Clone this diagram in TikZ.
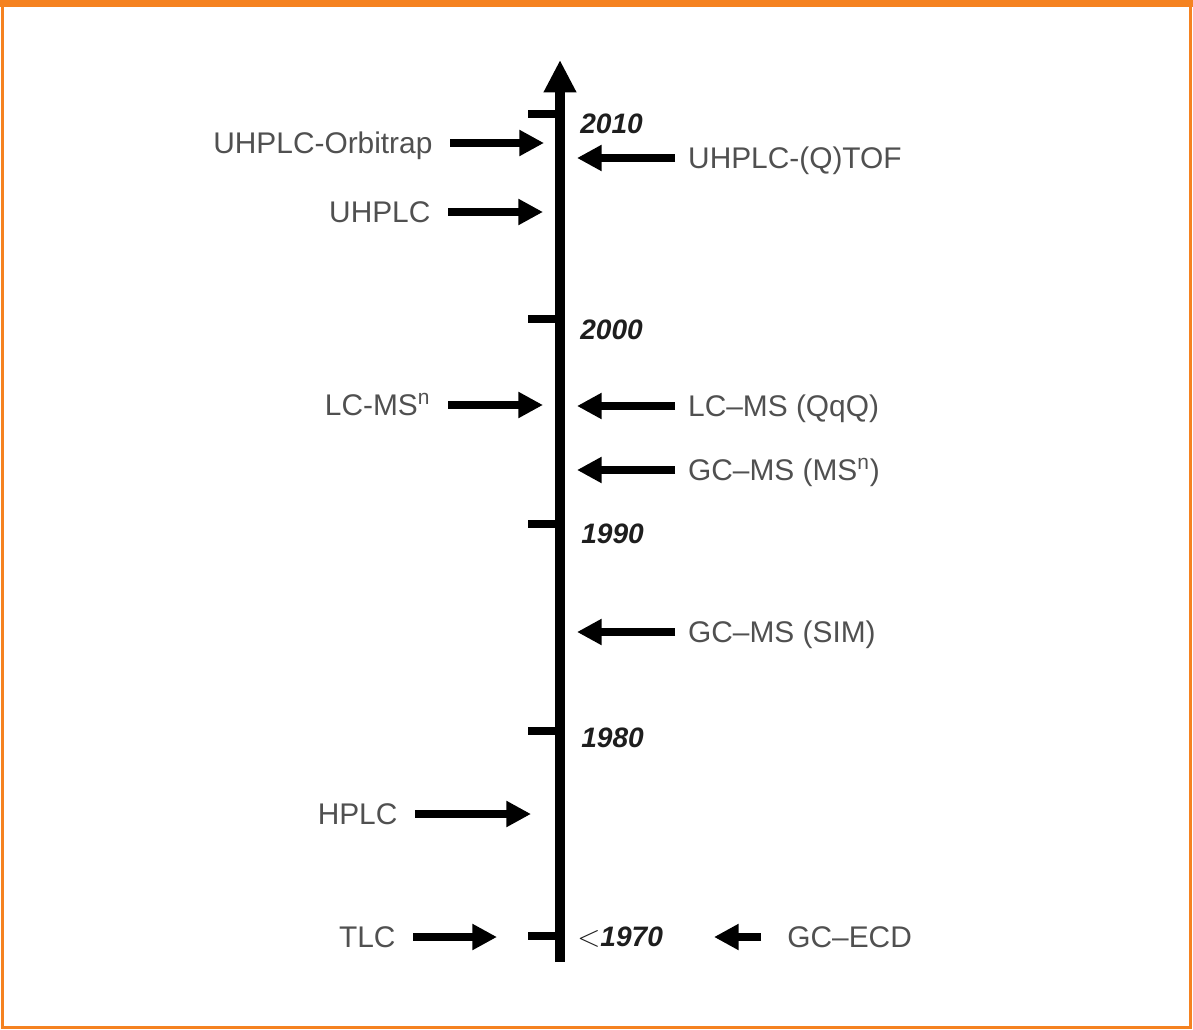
\documentclass[tikz,border=0pt]{standalone}
\usepackage{fontspec}
\setmainfont{Liberation Sans}
\usetikzlibrary{arrows.meta}
\definecolor{frameorange}{RGB}{245, 130, 32}
\definecolor{labelgrey}{RGB}{80, 80, 80}
\definecolor{yearink}{RGB}{30, 30, 30}

\begin{document}
\begin{tikzpicture}[
    x=0.02cm, y=-0.02cm,
    tech/.style={font=\fontsize{17}{20}\selectfont\color{labelgrey}, inner sep=0pt, outer sep=10pt, text height=12.2pt, text depth=0pt},
    yearlbl/.style={font=\fontsize{16}{19}\selectfont\bfseries\itshape\color{yearink}, inner sep=0pt, anchor=west},
    arr/.style={-{Triangle[length=14pt, width=14pt]}, line width=5pt, black},
    axis/.style={-{Triangle[length=18.5pt, width=17.5pt]}, line width=5.6pt, black},
    tick/.style={line width=5pt, black},
  ]
    \useasboundingbox (0,0) rectangle (1193,1030);
    % frame
    \draw[frameorange, line width=1.7pt] (2.5,3) rectangle (1190.5,1027);
    \fill[frameorange] (0,0) rectangle (1193,7);

    % time axis
    \coordinate (axbot) at (560,962);
    \coordinate (axtop) at (560,60);
    \draw[axis] (axbot) -- (axtop);
    \foreach \yy in {114, 319, 524, 731, 936}
      \draw[tick] (528,\yy) -- (560,\yy);

    \node[yearlbl] (y2010) at (580,124) {2010};
    \node[yearlbl] (y2000) at (580,330) {2000};
    \node[yearlbl] (y1990) at (581,534) {1990};
    \node[yearlbl] (y1980) at (581,738) {1980};
    \node[yearlbl] (y1970) at (577,937) {{\mdseries\upshape\ensuremath{<}}1970};

    % left side
    \node[tech, anchor=east] (orbi) at (450,143) {UHPLC-Orbitrap};
    \node[tech, anchor=east] (uhplc) at (448,212) {UHPLC};
    \node[tech, anchor=east] (lcmsn) at (448,405) {LC-MS\textsuperscript{n}};
    \node[tech, anchor=east] (hplc) at (415,814) {HPLC};
    \node[tech, anchor=east] (tlc) at (413,937) {TLC};
    \coordinate (orbi-tip) at (544,143);
    \coordinate (uhplc-tip) at (543,212);
    \coordinate (lcmsn-tip) at (543,405);
    \coordinate (hplc-tip) at (531,814);
    \coordinate (tlc-tip) at (497,937);
    \draw[arr] (orbi) -- (orbi-tip);
    \draw[arr] (uhplc) -- (uhplc-tip);
    \draw[arr] (lcmsn) -- (lcmsn-tip);
    \draw[arr] (hplc) -- (hplc-tip);
    \draw[arr] (tlc) -- (tlc-tip);

    % right side
    \node[tech, anchor=west, outer sep=7.5pt] (qtof) at (675,158) {UHPLC-(Q)TOF};
    \node[tech, anchor=west, outer sep=7.5pt] (qqq) at (675,406) {LC--MS (QqQ)};
    \node[tech, anchor=west, outer sep=7.5pt] (gcmsn) at (675,470) {GC--MS (MS\textsuperscript{n})};
    \node[tech, anchor=west, outer sep=7.5pt] (sim) at (675,632) {GC--MS (SIM)};
    \node[tech, anchor=west, outer sep=15pt] (ecd) at (761,937) {GC--ECD};
    \coordinate (qtof-tip) at (577,158);
    \coordinate (qqq-tip) at (577,406);
    \coordinate (gcmsn-tip) at (577,470);
    \coordinate (sim-tip) at (577,632);
    \coordinate (ecd-tip) at (714,937);
    \draw[arr] (qtof) -- (qtof-tip);
    \draw[arr] (qqq) -- (qqq-tip);
    \draw[arr] (gcmsn) -- (gcmsn-tip);
    \draw[arr] (sim) -- (sim-tip);
    \draw[arr] (ecd) -- (ecd-tip);
  \end{tikzpicture}
\end{document}
